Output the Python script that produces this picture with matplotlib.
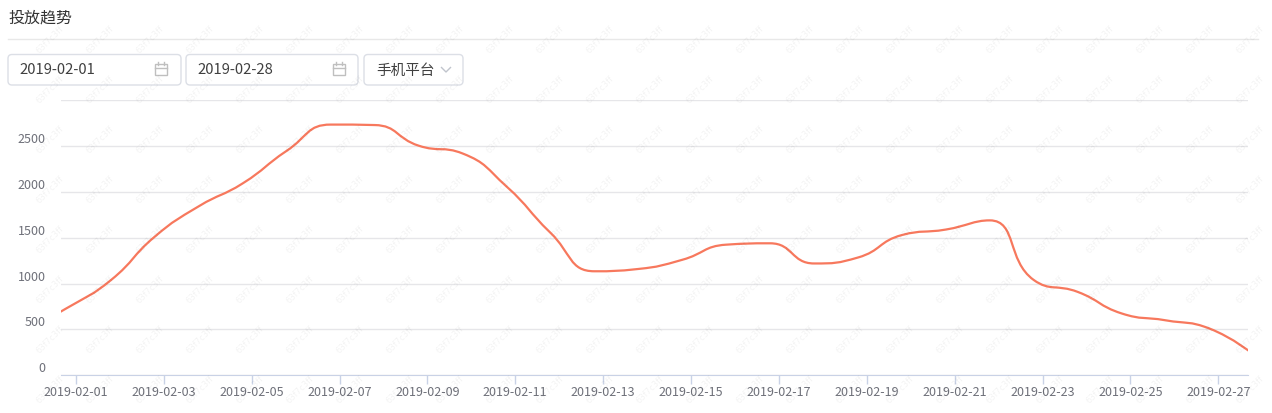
import numpy as np
import pandas as pd
import matplotlib.pyplot as plt
from matplotlib.patches import FancyBboxPatch, PathPatch, Rectangle
from matplotlib.path import Path
from matplotlib.lines import Line2D
from matplotlib.transforms import Affine2D

plt.rcParams['font.family'] = ['Noto Sans CJK SC', 'DejaVu Sans']

# data
dates = pd.date_range('2019-01-31', '2019-02-28', freq='D')
values = [480, 735, 1040, 1515, 1845, 2095, 2450, 2735, 2730, 2505, 2420,
          2060, 1555, 1135, 1160, 1260, 1425, 1440, 1220, 1285, 1530, 1590,
          1690, 1040, 910, 675, 600, 510, 230]
tick_labels = ['2019-02-01', '2019-02-03', '2019-02-05', '2019-02-07',
               '2019-02-09', '2019-02-11', '2019-02-13', '2019-02-15',
               '2019-02-17', '2019-02-19', '2019-02-21', '2019-02-23',
               '2019-02-25', '2019-02-27']
y_ticks = [0, 500, 1000, 1500, 2000, 2500, 3000]
title = '投放趋势'
start_date, end_date = '2019-02-01', '2019-02-28'
platform = '手机平台'

LINE = '#f7785d'
W, H = 1272, 413

fig = plt.figure(figsize=(W / 100, H / 100), dpi=100)
# pixel transform, origin at top-left
px = Affine2D().scale(1 / 100, -1 / 100).translate(0, H / 100) + fig.dpi_scale_trans

# watermark (only where it fits fully inside)
for wy in range(40, H - 20, 50):
    for wx in range(50, W - 20, 50):
        fig.text(wx, wy, '63f7c3ff', transform=px, rotation=45, fontsize=6,
                 color='#000000', alpha=0.05, ha='center', va='center',
                 family='DejaVu Sans', zorder=10)

# header
fig.text(8, 18, title, transform=px, fontsize=11.5, color='#333333',
         ha='left', va='center')
fig.add_artist(Line2D([8, 1258], [38.5, 38.5], transform=px, color='#e8e8e8', lw=1))

def box(x0, x1, y0=54.5, y1=85):
    fig.add_artist(FancyBboxPatch((x0, y0), x1 - x0, y1 - y0,
                                  boxstyle='round,pad=0,rounding_size=4',
                                  transform=px, fc='white', ec='#dcdfe6', lw=1))

def calendar(cx):
    fig.add_artist(Rectangle((cx - 6, 64), 12, 11, transform=px, fill=False,
                             ec='#bfbfbf', lw=1))
    fig.add_artist(Line2D([cx - 6, cx + 6], [67.5, 67.5], transform=px, color='#bfbfbf', lw=1))
    for tx in (cx - 3, cx + 3):
        fig.add_artist(Line2D([tx, tx], [62, 65], transform=px, color='#bfbfbf', lw=1))

box(8, 181)
fig.text(19, 70.5, start_date, transform=px, fontsize=10.7, color='#404040', va='center')
calendar(161)
box(186, 358)
fig.text(197, 70.5, end_date, transform=px, fontsize=10.7, color='#404040', va='center')
calendar(339)
box(364, 463)
fig.text(376, 70.5, platform, transform=px, fontsize=10.5, color='#404040', va='center')
fig.add_artist(Line2D([441.5, 446, 450.5], [67.5, 72, 67.5], transform=px,
                      color='#c0c4cc', lw=1))

# chart
ax = fig.add_axes([61 / W, (H - 375.3) / H, (1247.7 - 61) / W, (375.3 - 100.3) / H])
xs = (dates - pd.Timestamp('2019-02-01')).days.values - 0.2
ys = np.array(values, dtype=float)
x_lo, x_hi = -0.34, 26.67
ax.set_xlim(x_lo, x_hi)
ax.set_ylim(0, 3000)

# echarts-style smooth bezier, computed in pixel space
sx = (1247.7 - 61) / (x_hi - x_lo)
sy = 275.0 / 3000
P = np.column_stack([xs * sx, ys * sy])
smooth = 0.5
verts = [tuple(P[0])]
codes = [Path.MOVETO]
cp0 = P[0].copy()
n = len(P)
for i in range(1, n):
    x, y = P[i]
    px_, py_ = P[i - 1]
    if i == n - 1:
        cp1 = np.array([x, y])
        ncp0 = cp1
    else:
        nx, ny = P[i + 1]
        vx, vy = nx - px_, ny - py_
        lp = np.hypot(x - px_, y - py_)
        ln = np.hypot(nx - x, ny - y)
        r = ln / (ln + lp)
        ncx = x + vx * smooth * r
        ncy = y + vy * smooth * r
        ncx = max(min(ncx, max(nx, x)), min(nx, x))
        ncy = max(min(ncy, max(ny, y)), min(ny, y))
        vx, vy = ncx - x, ncy - y
        c1x = x - vx * lp / ln
        c1y = y - vy * lp / ln
        c1x = max(min(c1x, max(px_, x)), min(px_, x))
        c1y = max(min(c1y, max(py_, y)), min(py_, y))
        vx, vy = x - c1x, y - c1y
        ncp0 = np.array([x + vx * ln / lp, y + vy * ln / lp])
        cp1 = np.array([c1x, c1y])
    verts += [tuple(cp0), tuple(cp1), (x, y)]
    codes += [Path.CURVE4] * 3
    cp0 = ncp0
verts = np.array(verts) / np.array([sx, sy])
ax.add_patch(PathPatch(Path(verts, codes), fill=False, ec=LINE, lw=1.6,
                       capstyle='round', joinstyle='round', zorder=3))

ax.set_yticks(y_ticks)
ax.set_yticklabels([str(v) if v < 3000 else '' for v in y_ticks])
ax.set_xticks(range(0, 27, 2))
ax.set_xticklabels(tick_labels)
ax.grid(axis='y', color='#e6e6e9', lw=1)
ax.set_axisbelow(True)
for s in ('top', 'left', 'right'):
    ax.spines[s].set_visible(False)
ax.spines['bottom'].set_color('#c9d2e6')
ax.spines['bottom'].set_zorder(4)
ax.tick_params(axis='y', length=0, pad=11, labelsize=9, labelcolor='#6e7079')
ax.tick_params(axis='x', length=6.5, width=1, color='#c9d2e6', pad=1.5,
               labelsize=9, labelcolor='#6e7079')
for lab in ax.get_yticklabels():
    lab.set_verticalalignment('bottom')

fig.savefig('out.png', dpi=100)
